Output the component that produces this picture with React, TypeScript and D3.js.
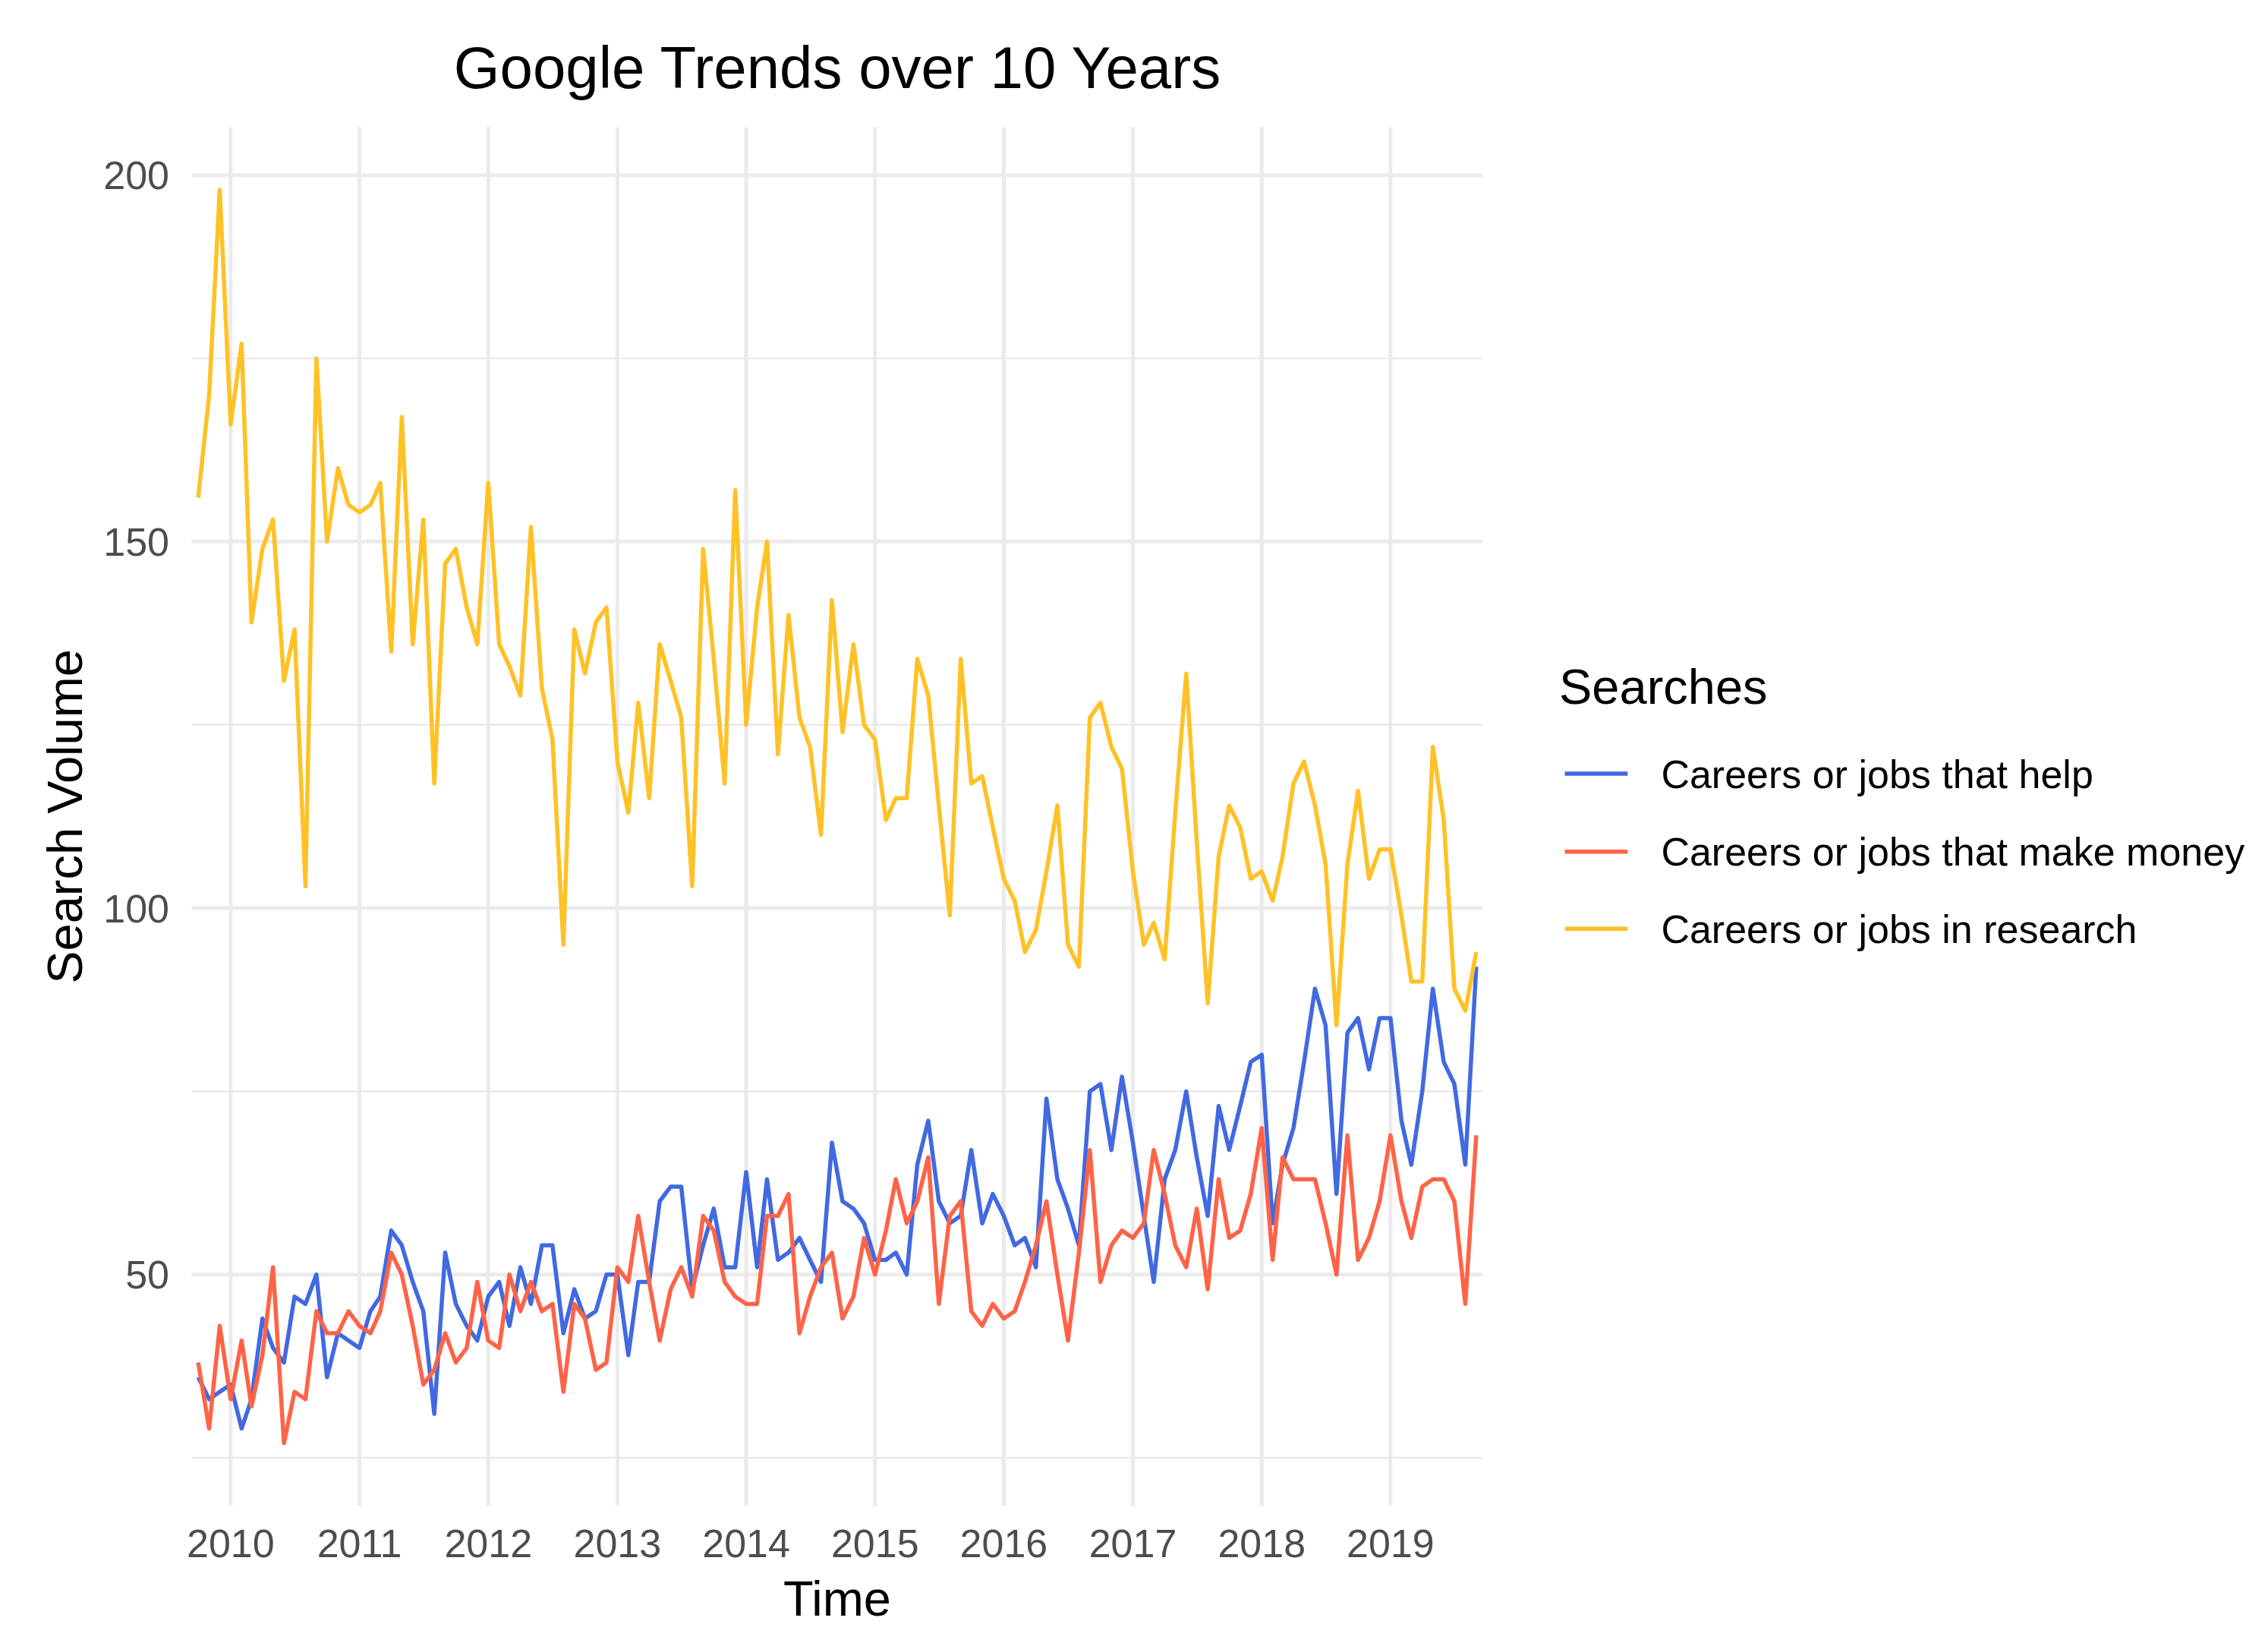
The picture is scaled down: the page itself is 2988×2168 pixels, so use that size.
import React from "react";
import * as d3 from "d3";

// ---- data (monthly Google Trends, Oct 2009 .. Sep 2019) ----
const START_MONTH = "2009-10-01";

const helpValues = [
  36, 33, 34,
  35, 29, 33, 44, 40, 38, 47, 46, 50, 36, 42, 41,
  40, 45, 47, 56, 54, 49, 45, 31, 53, 46, 43, 41,
  47, 49, 43, 51, 46, 54, 54, 42, 48, 44, 45, 50,
  50, 39, 49, 49, 60, 62, 62, 48, 54, 59, 51, 51,
  64, 51, 63, 52, 53, 55, 52, 49, 68, 60, 59, 57,
  52, 52, 53, 50, 65, 71, 60, 57, 58, 67, 57, 61,
  58, 54, 55, 51, 74, 63, 59, 54, 75, 76, 67, 77,
  68, 58, 49, 63, 67, 75, 66, 58, 73, 67, 73, 79,
  80, 57, 65, 70, 79, 89, 84, 61, 83, 85, 78, 85,
  85, 71, 65, 75, 89, 79, 76, 65, 92,
];

const moneyValues = [
  38, 29, 43,
  33, 41, 32, 39, 51, 27, 34, 33, 45, 42, 42, 45,
  43, 42, 45, 53, 50, 43, 35, 37, 42, 38, 40, 49,
  41, 40, 50, 45, 49, 45, 46, 34, 46, 44, 37, 38,
  51, 49, 58, 49, 41, 48, 51, 47, 58, 56, 49, 47,
  46, 46, 58, 58, 61, 42, 47, 51, 53, 44, 47, 55,
  50, 56, 63, 57, 60, 66, 46, 58, 60, 45, 43, 46,
  44, 45, 49, 54, 60, 50, 41, 53, 67, 49, 54, 56,
  55, 57, 67, 61, 54, 51, 59, 48, 63, 55, 56, 61,
  70, 52, 66, 63, 63, 63, 57, 50, 69, 52, 55, 60,
  69, 60, 55, 62, 63, 63, 60, 46, 69,
];

const researchValues = [
  156, 170, 198,
  166, 177, 139, 149, 153, 131, 138, 103, 175, 150, 160, 155,
  154, 155, 158, 135, 167, 136, 153, 117, 147, 149, 141, 136,
  158, 136, 133, 129, 152, 130, 123, 95, 138, 132, 139, 141,
  120, 113, 128, 115, 136, 131, 126, 103, 149, 134, 117, 157,
  125, 141, 150, 121, 140, 126, 122, 110, 142, 124, 136, 125,
  123, 112, 115, 115, 134, 129, 114, 99, 134, 117, 118, 111,
  104, 101, 94, 97, 105, 114, 95, 92, 126, 128, 122, 119,
  105, 95, 98, 93, 113, 132, 109, 87, 107, 114, 111, 104,
  105, 101, 107, 117, 120, 114, 106, 84, 106, 116, 104, 108,
  108, 99, 90, 90, 122, 112, 89, 86, 94,
];

const seriesNames = [
  "Careers or jobs that help",
  "Careers or jobs that make money",
  "Careers or jobs in research",
];
const seriesColors = ["#4169E1", "#FF6347", "#FFC125"];

const yMajorTicks = [50, 100, 150, 200];
const yMinorTicks = [25, 75, 125, 175];
const xTickYears = [2010, 2011, 2012, 2013, 2014, 2015, 2016, 2017, 2018, 2019];

const TITLE = "Google Trends over 10 Years";
const X_TITLE = "Time";
const Y_TITLE = "Search Volume";
const LEGEND_TITLE = "Searches";

// ---- layout ----
const W = 2988;
const H = 2168;
const PANEL = { left: 252.7, right: 1953.3, top: 167.4, bottom: 1983.4 };
const FONT = "'Liberation Sans', Arial, Helvetica, sans-serif";
const BASE = 65;
const SMALL = 52;
const LINE_W = 5.5;

export default function App() {
  const start = d3.timeParse("%Y-%m-%d")(START_MONTH) as Date;
  const dates = helpValues.map((_, i) => d3.timeMonth.offset(start, i));
  const allSeries = [helpValues, moneyValues, researchValues];

  const t0 = dates[0].getTime();
  const t1 = dates[dates.length - 1].getTime();
  const tPad = (t1 - t0) * 0.005;
  const x = d3
    .scaleTime()
    .domain([new Date(t0 - tPad), new Date(t1 + tPad)])
    .range([PANEL.left, PANEL.right]);

  const all = allSeries.flat();
  const [vmin, vmax] = d3.extent(all) as [number, number];
  const vPad = (vmax - vmin) * 0.05;
  const y = d3
    .scaleLinear()
    .domain([vmin - vPad, vmax + vPad])
    .range([PANEL.bottom, PANEL.top]);

  const line = d3
    .line<number>()
    .x((_, i) => x(dates[i]))
    .y((d) => y(d));

  const yearDate = (yr: number) => new Date(yr, 0, 1);
  const cx = (PANEL.left + PANEL.right) / 2;
  const cy = (PANEL.top + PANEL.bottom) / 2;

  const legendKeyY = [1019, 1121.7, 1223.3];

  return (
    <svg
      width={W}
      height={H}
      viewBox={`0 0 ${W} ${H}`}
      style={{ position: "absolute", left: 0, top: 0, background: "#fff" }}
      fontFamily={FONT}
    >
      <rect x={0} y={0} width={W} height={H} fill="#ffffff" />
      {yMinorTicks.map((v) => (
        <line
          key={"ym" + v}
          x1={PANEL.left}
          x2={PANEL.right}
          y1={y(v)}
          y2={y(v)}
          stroke="#EBEBEB"
          strokeWidth={2.7}
        />
      ))}
      {yMajorTicks.map((v) => (
        <line
          key={"yM" + v}
          x1={PANEL.left}
          x2={PANEL.right}
          y1={y(v)}
          y2={y(v)}
          stroke="#EBEBEB"
          strokeWidth={5}
        />
      ))}
      {xTickYears.map((yr) => (
        <line
          key={"xM" + yr}
          x1={x(yearDate(yr))}
          x2={x(yearDate(yr))}
          y1={PANEL.top}
          y2={PANEL.bottom}
          stroke="#EBEBEB"
          strokeWidth={5}
        />
      ))}

      {allSeries.map((vals, i) => (
        <path
          key={"s" + i}
          d={line(vals) || ""}
          fill="none"
          stroke={seriesColors[i]}
          strokeWidth={LINE_W}
          strokeLinejoin="round"
          strokeLinecap="butt"
        />
      ))}

      {yMajorTicks.map((v) => (
        <text
          key={"yl" + v}
          x={223}
          y={y(v) + SMALL * 0.716 / 2}
          textAnchor="end"
          fontSize={SMALL}
          fill="#4D4D4D"
        >
          {v}
        </text>
      ))}
      {xTickYears.map((yr) => (
        <text
          key={"xl" + yr}
          x={x(yearDate(yr))}
          y={2050.7}
          textAnchor="middle"
          fontSize={SMALL}
          fill="#4D4D4D"
        >
          {yr}
        </text>
      ))}

      <text x={cx} y={116} textAnchor="middle" fontSize={BASE * 1.2} fill="#000">
        {TITLE}
      </text>
      <text x={cx} y={2128} textAnchor="middle" fontSize={BASE} fill="#000">
        {X_TITLE}
      </text>
      <text
        transform={`translate(108,${cy}) rotate(-90)`}
        textAnchor="middle"
        fontSize={BASE}
        fill="#000"
      >
        {Y_TITLE}
      </text>

      <text x={2054} y={926.7} fontSize={BASE} fill="#000">
        {LEGEND_TITLE}
      </text>
      {seriesNames.map((name, i) => (
        <g key={"lg" + i}>
          <line
            x1={2061.6}
            x2={2144.3}
            y1={legendKeyY[i]}
            y2={legendKeyY[i]}
            stroke={seriesColors[i]}
            strokeWidth={LINE_W}
          />
          <text
            x={2188.4}
            y={legendKeyY[i] + SMALL * 0.716 / 2}
            fontSize={SMALL}
            fill="#000"
          >
            {name}
          </text>
        </g>
      ))}
    </svg>
  );
}
